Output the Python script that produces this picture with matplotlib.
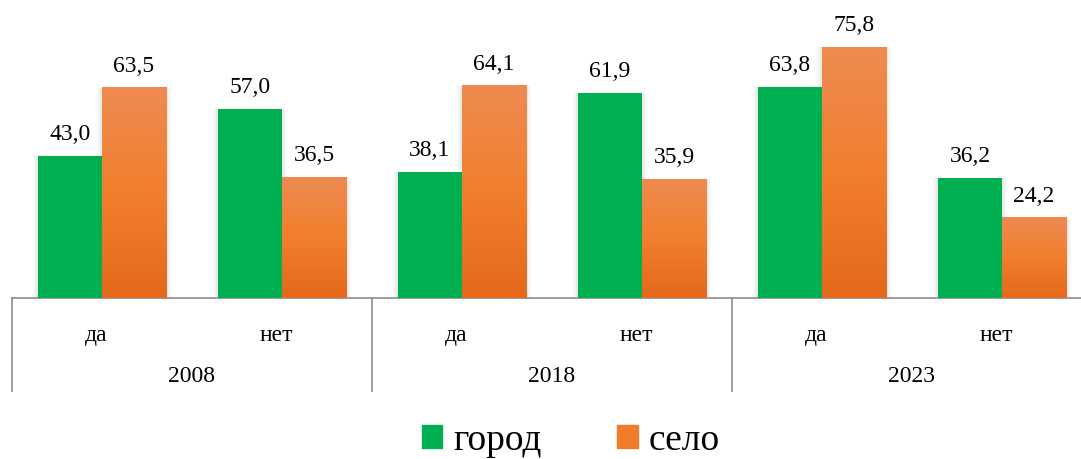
import matplotlib.pyplot as plt
import matplotlib.transforms as mtransforms
from matplotlib.colors import LinearSegmentedColormap
from matplotlib.patches import Patch
import numpy as np

plt.rcParams['font.family'] = ['Liberation Serif', 'DejaVu Serif']

years = ["2008", "2018", "2023"]
answers = ["да", "нет"]
gorod = [43.0, 57.0, 38.1, 61.9, 63.8, 36.2]
selo = [63.5, 36.5, 64.1, 35.9, 75.8, 24.2]
series_names = ["город", "село"]

green = "#00B050"
orange = "#F07C2A"
grad = LinearSegmentedColormap.from_list("og", ["#E4691B", "#F17F2D", "#EE8B52"])

fig = plt.figure(figsize=(10.81, 4.59), dpi=100)
ax = fig.add_axes([12 / 1081, 1 - 298 / 459, 1080 / 1081, 298 / 459])

x = np.arange(len(gorod))
w = 0.356

# soft shadow around each bar
for i in range(len(x)):
    for pad, a in [(0.03, 0.04), (0.02, 0.05), (0.01, 0.07)]:
        ax.bar(x[i] - w - pad, gorod[i] + pad * 3, width=w + 2 * pad, align="edge",
               color="gray", alpha=a, linewidth=0, zorder=1)
        ax.bar(x[i] - pad, selo[i] + pad * 3, width=w + 2 * pad, align="edge",
               color="gray", alpha=a, linewidth=0, zorder=1)

ax.bar(x - w / 2, gorod, width=w, color=green, linewidth=0, zorder=3)
obars = ax.bar(x + w / 2, selo, width=w, color=orange, linewidth=0, zorder=3)

g = np.linspace(0, 1, 256).reshape(-1, 1)
for b in obars:
    x0, h = b.get_x(), b.get_height()
    ax.imshow(g, cmap=grad, origin="lower", aspect="auto",
              extent=[x0, x0 + b.get_width(), 0, h], zorder=4)

for i in range(len(x)):
    ax.annotate(f"{gorod[i]:.1f}".replace(".", ","), (x[i] - w / 2, gorod[i]),
                xytext=(0, 8), textcoords="offset points", ha="center",
                va="bottom", fontsize=17)
    ax.annotate(f"{selo[i]:.1f}".replace(".", ","), (x[i] + w / 2, selo[i]),
                xytext=(0, 8), textcoords="offset points", ha="center",
                va="bottom", fontsize=17)

ax.set_xlim(-0.5, 5.5)
ax.set_ylim(0, 90)
ax.set_yticks([])
ax.set_xticks([])
for s in ["top", "left", "right"]:
    ax.spines[s].set_visible(False)
ax.spines["bottom"].set_color("#8C8C8C")
ax.spines["bottom"].set_linewidth(1.2)

trans = mtransforms.blended_transform_factory(ax.transData, ax.transAxes)
for xv in [-0.5, 1.5, 3.5, 5.5]:
    ax.plot([xv, xv], [0, -0.312], transform=trans, color="#8C8C8C",
            linewidth=1.2, clip_on=False)
for i in range(len(x)):
    ax.text(x[i] - 0.03, -0.125, answers[i % 2], transform=trans, ha="center",
            va="center", fontsize=17)
for j, yr in enumerate(years):
    ax.text(2 * j + 0.5, -0.265, yr, transform=trans, ha="center", va="center",
            fontsize=17)

handles = [Patch(color=green), Patch(color=orange)]
fig.legend(handles, series_names, loc="center", bbox_to_anchor=(0.528, 0.04),
           ncol=2, frameon=False, fontsize=27, handlelength=0.55, handleheight=0.55,
           handletextpad=0.3, columnspacing=2.0)

fig.savefig("out.png", dpi=100)
